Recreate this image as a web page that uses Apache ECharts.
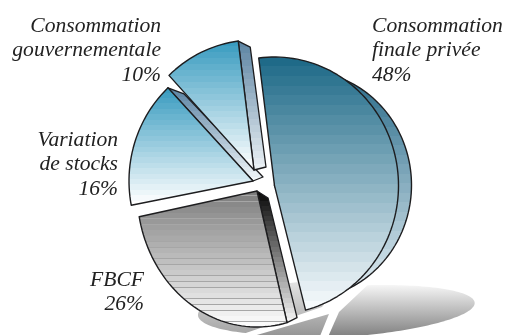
<!DOCTYPE html>
<html>
<head>
<meta charset="utf-8">
<style>html,body{margin:0;padding:0;background:#fff}#chart{width:507px;height:335px}</style>
<script src="https://cdn.jsdelivr.net/npm/echarts@6/dist/echarts.min.js"></script>
</head>
<body>
<div id="chart"></div>
<script>
// Répartition du PIB par poste de dépense (%), dans le sens horaire
const categories = ['Consommation finale privée', 'FBCF', 'Variation de stocks', 'Consommation gouvernementale'];
const values = [48, 26, 16, 10];
const labelLines = [['Consommation', 'finale privée'], ['FBCF'], ['Variation', 'de stocks'], ['Consommation', 'gouvernementale']];

// Mise en page de chaque part éclatée : sommet, rayons, épaisseur
const START_ANGLE = -7.3;
const layout = [
  { cx: 274.5, cy: 185.6, rx: 124, ry: 128.6 },
  { cx: 257, cy: 191, rx: 120, ry: 136 },
  { cx: 253, cy: 181, rx: 124, ry: 128 },
  { cx: 254, cy: 170, rx: 124, ry: 130 }
];
const labelStyle = [
  { x: 372, y: 26, align: 'left' },
  { x: 144, y: 280, align: 'right' },
  { x: 118, y: 140, align: 'right' },
  { x: 161, y: 26, align: 'right' }
];
const INK = '#1d1d1f';

// Dégradé vertical en bandes, comme un tramage à paliers
function bands(top, bottom, n, hair) {
  const p = c => [1, 3, 5].map(i => parseInt(c.substr(i, 2), 16));
  const a = p(top), b = p(bottom), stops = [];
  for (let i = 0; i < n; i++) {
    const t = i / (n - 1);
    const col = 'rgb(' + a.map((v, k) => Math.round(v + (b[k] - v) * t)).join(',') + ')';
    stops.push({ offset: i / n, color: col });
    if (hair) {
      stops.push({ offset: (i + 0.88) / n, color: col });
      stops.push({ offset: (i + 0.88) / n, color: hair });
    }
    stops.push({ offset: (i + 1) / n, color: hair || col });
  }
  return { type: 'linear', x: 0, y: 0, x2: 0, y2: 1, colorStops: stops };
}

function arc(g, a0, a1) {
  const pts = [];
  const steps = Math.max(2, Math.ceil((a1 - a0) / 2));
  for (let i = 0; i <= steps; i++) {
    const t = (a0 + (a1 - a0) * i / steps) * Math.PI / 180;
    pts.push([g.cx + g.rx * Math.sin(t) + (g.shear || 0) * Math.cos(t), g.cy - g.ry * Math.cos(t)]);
  }
  return pts;
}
const poly = (points, fill, stroke, lw) => ({
  type: 'polygon', shape: { points },
  style: { fill, stroke: stroke || 'none', lineWidth: lw || 0, lineJoin: 'round' }
});

// Angles de chaque part, calculés à partir des valeurs
const total = values.reduce((s, v) => s + v, 0);
function spans(list) {
  let a = START_ANGLE;
  return list.map(v => { const s = [a, a + v / total * 360]; a = s[1]; return s; });
}
const sliceAngles = spans(values);

const faceFill = [
  bands('#1f6a88', '#f6fafc', 26),
  bands('#7e7e7e', '#fbfbfb', 24, '#a6a6a6'),
  bands('#3a9cc0', '#ffffff', 22),
  bands('#3a9cc0', '#ffffff', 22)
];

function renderSlice(params, api) {
  const i = params.dataIndex;
  const g = layout[i];
  const [a0, a1] = sliceAngles[i];
  const rim = arc(g, a0, a1);
  const apex = [g.cx, g.cy];
  const children = [];
  if (i === 0) {
    // Tranche extérieure de la grande part, ellipse arrière en retrait
    const back = { cx: g.cx + 27, cy: g.cy - 0.5, rx: g.rx - 14, ry: g.ry - 14 };
    children.push(poly([apex].concat(arc(back, a0, a1)), bands('#2a6c8a', '#e2edf3', 24), INK, 1.4));
  }
  if (i === 1) {
    const p = rim[0];
    children.push(poly([apex, p, [p[0] + 10, p[1] - 5], [apex[0] + 11, apex[1] + 7]], bands('#0a0a0a', '#f2f2f2', 26), INK, 1.3));
  }
  if (i === 2) {
    const p = rim[rim.length - 1];
    children.push(poly([apex, p, [p[0] + 16, p[1] + 6], [apex[0] + 10, apex[1] - 4]], bands('#5c84a4', '#f0f5f8', 20), INK, 1.3));
  }
  if (i === 3) {
    const p = rim[rim.length - 1];
    children.push(poly([apex, p, [p[0] + 12, p[1] + 6], [apex[0] + 12, apex[1] - 3]], bands('#5f86a4', '#eaf0f4', 20), INK, 1.3));
  }
  children.push(poly([apex].concat(rim), faceFill[i], INK, 1.4));
  return { type: 'group', children };
}

// Ombre portée au sol : la même tarte aplatie et cisaillée
const shadowValues = [values[0], values[3], values[1] + values[2]];
const shadowAngles = spans(shadowValues);
const shadowLayout = [
  { cx: 339, cy: 312, rx: 128, ry: 27, shear: 45 },
  { cx: 329, cy: 314, rx: 130, ry: 28, shear: 45 },
  { cx: 322, cy: 307, rx: 119, ry: 28, shear: 35 }
];
const vertical = (a, b) => ({ type: 'linear', x: 0, y: 0, x2: 0, y2: 1, colorStops: [{ offset: 0, color: a }, { offset: 1, color: b }] });
const shadowFill = [vertical('#f6f6f6', '#7c7c7c'), vertical('#b4b4b4', '#8c8c8c'), vertical('#e6e6e6', '#a6a6a6')];
function renderShadow(params) {
  const i = params.dataIndex;
  const g = shadowLayout[i];
  const [a0, a1] = shadowAngles[i];
  return poly([[g.cx, g.cy]].concat(arc(g, a0, a1)), shadowFill[i]);
}

function renderLabel(params) {
  const i = params.dataIndex;
  const s = labelStyle[i];
  const lines = labelLines[i].concat([values[i] + '%']);
  return {
    type: 'group',
    children: lines.map((t, k) => ({
      type: 'text',
      style: {
        text: t, x: s.x, y: s.y + k * 24.7, align: s.align, verticalAlign: 'middle',
        font: 'italic 21.6px "Liberation Serif", serif', fill: '#222'
      }
    }))
  };
}

const chart = echarts.init(document.getElementById('chart'), null, { renderer: 'canvas' });
chart.setOption({
  animation: false,
  backgroundColor: '#fff',
  series: [
    { type: 'custom', coordinateSystem: 'none', silent: true, renderItem: renderShadow, data: shadowValues, clip: false },
    { type: 'custom', coordinateSystem: 'none', silent: true, renderItem: renderSlice, data: values.map((v, i) => ({ name: categories[i], value: v })) },
    { type: 'custom', coordinateSystem: 'none', silent: true, renderItem: renderLabel, data: values.map((v, i) => ({ name: categories[i], value: v })) }
  ]
});
</script>
</body>
</html>
